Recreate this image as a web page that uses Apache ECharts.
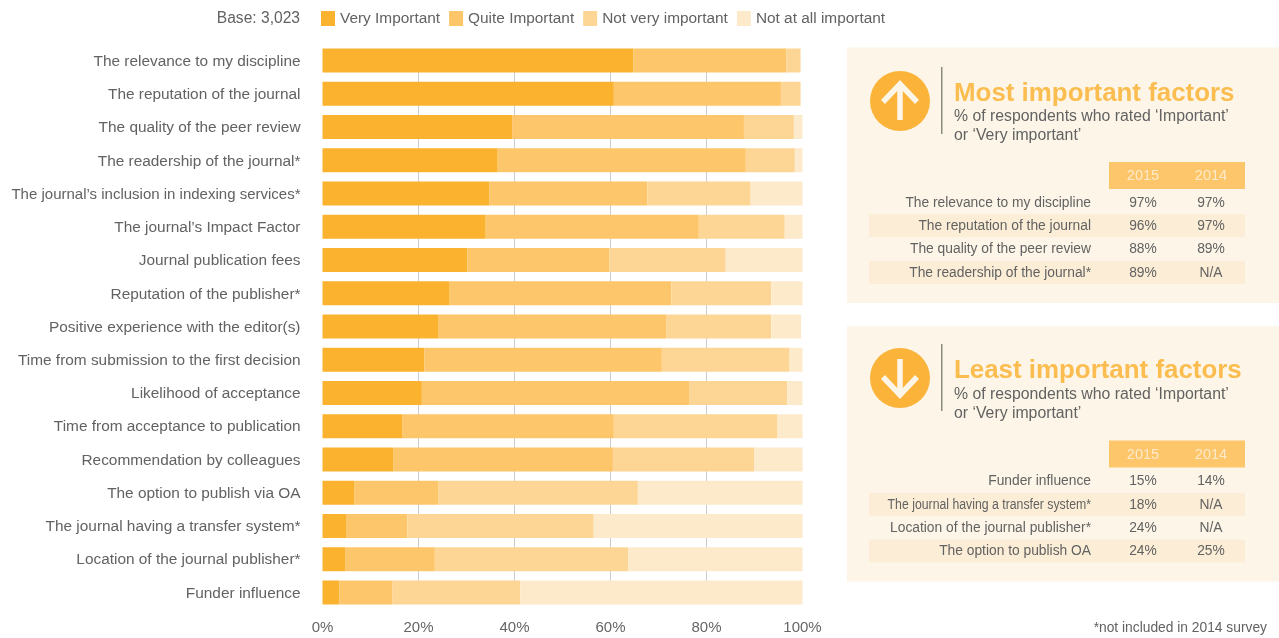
<!DOCTYPE html>
<html>
<head>
<meta charset="utf-8">
<style>html,body{margin:0;padding:0;background:#fff}#chart{width:1279px;height:638px}</style>
<script src="https://cdn.jsdelivr.net/npm/echarts@6/dist/echarts.min.js"></script>
</head>
<body>
<div id="chart"></div>
<script>
// Survey factors, listed top to bottom
const categories = [
  "The relevance to my discipline","The reputation of the journal","The quality of the peer review",
  "The readership of the journal*","The journal\u2019s inclusion in indexing services*","The journal\u2019s Impact Factor",
  "Journal publication fees","Reputation of the publisher*","Positive experience with the editor(s)",
  "Time from submission to the first decision","Likelihood of acceptance","Time from acceptance to publication",
  "Recommendation by colleagues","The option to publish via OA","The journal having a transfer system*",
  "Location of the journal publisher*","Funder influence"
];
const veryImportant  = [64.8,60.7,39.5,36.5,34.8,34,30.2,26.5,24.2,21.2,20.7,16.7,14.7,6.7,4.9,4.7,3.5];
const quiteImportant = [31.8,34.8,48.3,51.7,32.9,44.4,29.6,46.2,47.5,49.5,55.8,44,45.8,17.5,12.8,18.7,11];
const notVeryImportant = [3,4.1,10.4,10.2,21.5,17.9,24.2,20.8,21.8,26.6,20.3,34.1,29.5,41.5,38.8,40.3,26.7];
const notAtAllImportant = [0,0,1.8,1.6,10.8,3.7,16,6.5,6.2,2.7,3.2,5.2,10,34.3,43.5,36.3,58.8];
const seriesNames = ["Very Important","Quite Important","Not very important","Not at all important"];
const seriesColors = ["#fbb22e","#fdc66b","#fdd696","#fdeacb"];
const axisTicks = [0,20,40,60,80,100];

// Side tables
const mostRows = ["The relevance to my discipline","The reputation of the journal","The quality of the peer review","The readership of the journal*"];
const most2015 = ["97%","96%","88%","89%"];
const most2014 = ["97%","97%","89%","N/A"];
const leastRows = ["Funder influence","The journal having a transfer system*","Location of the journal publisher*","The option to publish OA"];
const least2015 = ["15%","18%","24%","24%"];
const least2014 = ["14%","N/A","N/A","25%"];
const tableYears = ["2015","2014"];

const FONT = '"Liberation Sans", Arial, sans-serif';
const TEXT = "#626262";
const LONG_LABEL = categories[4];      // set slightly tighter to fit the left margin
const LONG_ROW = leastRows[1];         // set condensed inside its table row

function txt(x, y, text, size, align, fill, weight) {
  return {type:"text", x, y, silent:true, style:{
    text, font:(weight||"normal")+" "+size+"px "+FONT, fill:fill||TEXT, align:align||"left", verticalAlign:"middle"
  }};
}

// One panel: background, round arrow badge, heading and a small four-row table
function panel(top, title, up, rows, col15, col14, headShift, subShift) {
  const els = [];
  const d = headShift;
  els.push({type:"rect", shape:{x:847,y:top,width:432,height:255.5}, style:{fill:"#fdf6e8"}, silent:true});
  const cy = top + 53.5 + d;
  els.push({type:"circle", shape:{cx:900,cy,r:30}, style:{fill:"#fbb33a"}, silent:true});
  const dir = up ? 1 : -1;
  els.push({type:"polyline", shape:{points:[[900,cy+19*dir],[900,cy-17*dir]]}, style:{stroke:"#fdf6e8",lineWidth:5.5,fill:null}, silent:true});
  els.push({type:"polyline", shape:{points:[[883,cy+dir],[900,cy-17*dir],[917,cy+dir]]}, style:{stroke:"#fdf6e8",lineWidth:5.5,fill:null}, silent:true});
  els.push({type:"rect", shape:{x:941,y:top+19.5+d,width:1.5,height:67}, style:{fill:"#8a8a80"}, silent:true});
  els.push(txt(954,top+46.5+d,title,25.9,"left","#fbbd4f","bold"));
  els.push(txt(954,top+69+subShift,"% of respondents who rated \u2018Important\u2019",15.8));
  els.push(txt(954,top+88.5+subShift,"or \u2018Very important\u2019",15.8));
  els.push({type:"rect", shape:{x:1109,y:top+114.5,width:136,height:27}, style:{fill:"#fdc66b"}, silent:true});
  els.push(txt(1143,top+128.5,tableYears[0],14.5,"center","#fdeacb"));
  els.push(txt(1211,top+128.5,tableYears[1],14.5,"center","#fdeacb"));
  rows.forEach((r,i)=>{
    const y = top + 155 + i*23.3;
    if (i%2===1) els.push({type:"rect", shape:{x:869,y:y-11.5,width:376,height:23}, style:{fill:"#fceed6"}, silent:true});
    const label = txt(r===LONG_ROW?0:1091,y+0.5,r,13.8,"right");
    if (r===LONG_ROW) { label.x = 1091; label.scaleX = 0.89; }
    els.push(label);
    els.push(txt(1143,y+0.5,col15[i],13.8,"center"));
    els.push(txt(1211,y+0.5,col14[i],13.8,"center"));
  });
  return els;
}

const hiddenAxis = {axisLine:{show:false},axisTick:{show:false},axisLabel:{show:false}};

const option = {
  animation:false,
  backgroundColor:"#fff",
  textStyle:{fontFamily:FONT},
  legend:{
    left:321, top:11, itemWidth:14, itemHeight:15, itemGap:9, padding:0,
    icon:"rect", selectedMode:false,
    textStyle:{fontFamily:FONT,fontSize:15.4,color:TEXT},
    data:seriesNames
  },
  // First grid holds the bars; second one only carries the gridlines, which stop at the outer bars
  grid:[
    {left:322.5,right:1279-802.5,top:43.9,height:565.2},
    {left:322.5,right:1279-802.5,top:49,height:555}
  ],
  xAxis:[
    {
      type:"value", min:0, max:100, interval:20,
      axisLine:{show:false}, axisTick:{show:false}, splitLine:{show:false},
      axisLabel:{formatter:v=>axisTicks.includes(v)?v+"%":"",fontFamily:FONT,fontSize:15,color:"#666",margin:11}
    },
    Object.assign({
      gridIndex:1, type:"value", min:0, max:100, interval:20,
      splitLine:{show:true,lineStyle:{color:"#cccccc",width:1},showMinLine:false,showMaxLine:false}
    },hiddenAxis)
  ],
  yAxis:[
    {
      type:"category", inverse:true, data:categories,
      axisLine:{show:false}, axisTick:{show:false},
      axisLabel:{
        fontFamily:FONT,fontSize:15.4,color:TEXT,margin:22,align:"right",padding:[2,0,0,0],
        formatter:v=>v===LONG_LABEL?"{tight|"+v+"}":v,
        rich:{tight:{fontFamily:FONT,fontSize:15,color:TEXT}}
      }
    },
    Object.assign({gridIndex:1, type:"value", min:0, max:1, splitLine:{show:false}},hiddenAxis)
  ],
  series:[veryImportant,quiteImportant,notVeryImportant,notAtAllImportant].map((d,i)=>({
    name:seriesNames[i], type:"bar", stack:"all", barWidth:24, data:d,
    itemStyle:{color:seriesColors[i]}
  })),
  graphic:[
    txt(300,19,"Base: 3,023",15.6,"right"),
    ...panel(47.5,"Most important factors",true,mostRows,most2015,most2014,0,0),
    ...panel(326,"Least important factors",false,leastRows,least2015,least2014,-1.5,-0.5),
    txt(1267,628,"*not included in 2014 survey",13.8,"right")
  ]
};
echarts.init(document.getElementById("chart"),null,{renderer:"canvas"}).setOption(option);
</script>
</body>
</html>
